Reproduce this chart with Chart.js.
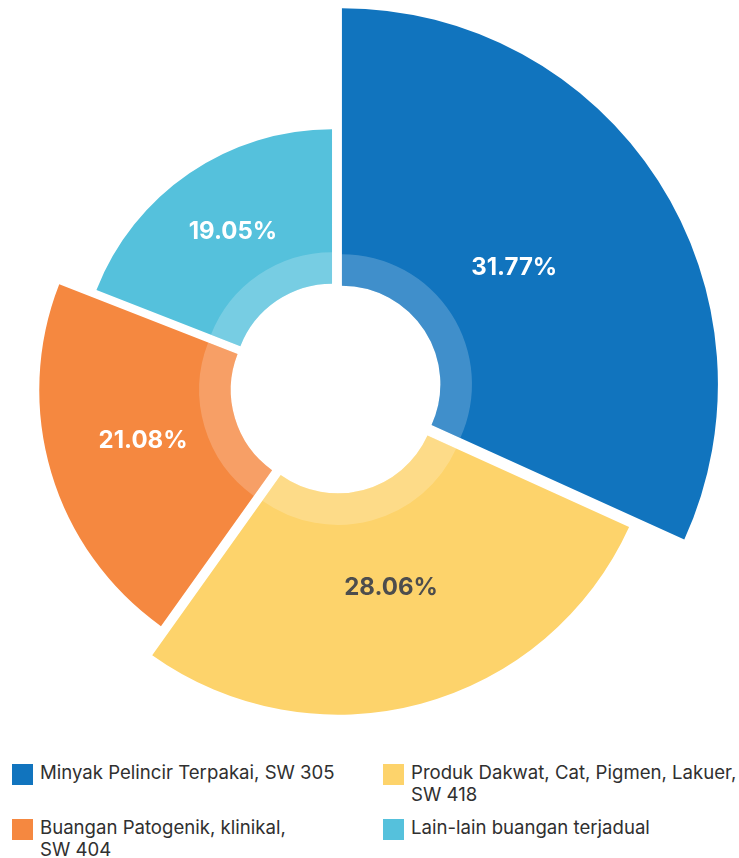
<!DOCTYPE html>
<html lang="ms">
<head>
<meta charset="UTF-8">
<meta name="viewport" content="width=device-width, initial-scale=1.0">
<title>Komposisi Buangan Terjadual</title>
<style>
    body { margin: 0; background: #fff; font-family: Inter, "Noto Sans", sans-serif; }
    .wrap { position: relative; width: 739px; height: 858px; overflow: hidden; }
    .chart { position: absolute; left: 0; top: 0; width: 739px; height: 740px; }
    #legend {
        position: absolute; left: 12px; top: 762px;
        display: grid; grid-template-columns: 371px 350px; grid-template-rows: 55px auto;
        margin: 0; padding: 0; list-style: none;
    }
    #legend li { display: flex; align-items: flex-start; }
    #legend .box { width: 21px; height: 21px; margin-top: 2px; margin-right: 7px; flex: none; }
    #legend .text { font-size: 18.6px; line-height: 21.5px; color: #303030; white-space: nowrap; }
</style>
</head>
<body>
<div class="wrap">
    <div class="chart">
        <canvas id="wasteChart"></canvas>
    </div>
    <ul id="legend"></ul>
</div>

<script src="https://cdn.jsdelivr.net/npm/chart.js"></script>
<script>
    const categories = [
        ['Minyak Pelincir Terpakai, SW 305'],
        ['Produk Dakwat, Cat, Pigmen, Lakuer,', 'SW 418'],
        ['Buangan Patogenik, klinikal,', 'SW 404'],
        ['Lain-lain buangan terjadual']
    ];
    const shares = [31.77, 28.06, 21.08, 19.05];
    const colours = ['#1174be', '#fdd36b', '#f58840', '#55c1dc'];
    const labelColours = ['#ffffff', '#4d4d4d', '#ffffff', '#ffffff'];

    // gives each slice its own outer radius, pushes it out a little
    // from the centre and keeps the pale inner band on top of it
    const explodedRings = {
        id: 'explodedRings',
        afterDatasetsUpdate(chart, args, opts) {
            const area = chart.chartArea;
            const cx = (area.left + area.right) / 2;
            const cy = (area.top + area.bottom) / 2;
            const base = Math.min(area.width, area.height) / 2;
            chart.data.datasets.forEach((ds, d) => {
                chart.getDatasetMeta(d).data.forEach((arc, i) => {
                    const mid = (arc.startAngle + arc.endAngle) / 2;
                    const off = base * opts.offset;
                    arc.x = cx + Math.cos(mid) * off;
                    arc.y = cy + Math.sin(mid) * off;
                    arc.innerRadius = base * opts.hole;
                    arc.outerRadius = d === 0 ? base * opts.outer[i] : base * opts.band;
                });
            });
        }
    };

    const percentLabels = {
        id: 'percentLabels',
        afterDatasetsDraw(chart, args, opts) {
            const ctx = chart.ctx;
            const area = chart.chartArea;
            const base = Math.min(area.width, area.height) / 2;
            ctx.save();
            ctx.font = 'bold 24px Inter, "Noto Sans", sans-serif';
            ctx.textAlign = 'center';
            ctx.textBaseline = 'middle';
            chart.getDatasetMeta(0).data.forEach((arc, i) => {
                const mid = (arc.startAngle + arc.endAngle) / 2;
                const r = Math.min((arc.innerRadius + arc.outerRadius) / 2, base * opts.maxRadius);
                ctx.fillStyle = labelColours[i];
                ctx.fillText(shares[i].toFixed(2) + '%', arc.x + Math.cos(mid) * r, arc.y + Math.sin(mid) * r - opts.lift);
            });
            ctx.restore();
        }
    };

    const chart = new Chart(document.getElementById('wasteChart'), {
        type: 'doughnut',
        data: {
            labels: categories,
            datasets: [{
                data: shares,
                backgroundColor: colours,
                borderWidth: 0,
                order: 1
            }, {
                data: shares,
                backgroundColor: 'rgba(255, 255, 255, 0.2)',
                borderWidth: 0,
                order: 0
            }]
        },
        options: {
            responsive: true,
            maintainAspectRatio: false,
            animation: false,
            layout: { padding: { left: 0, right: 67, top: 36, bottom: 0 } },
            plugins: {
                legend: { display: false },
                tooltip: { enabled: false },
                explodedRings: {
                    outer: [1.119, 0.952, 0.863, 0.753],
                    hole: 0.293,
                    band: 0.387,
                    offset: 0.021
                },
                percentLabels: { maxRadius: 0.61, lift: 5 }
            }
        },
        plugins: [explodedRings, percentLabels]
    });

    // legend as two columns under the chart
    const legend = document.getElementById('legend');
    chart.data.labels.forEach((lines, i) => {
        const li = document.createElement('li');
        const box = document.createElement('span');
        box.className = 'box';
        box.style.background = colours[i];
        const text = document.createElement('span');
        text.className = 'text';
        text.innerHTML = lines.join('<br>');
        li.appendChild(box);
        li.appendChild(text);
        legend.appendChild(li);
    });
</script>
</body>
</html>
